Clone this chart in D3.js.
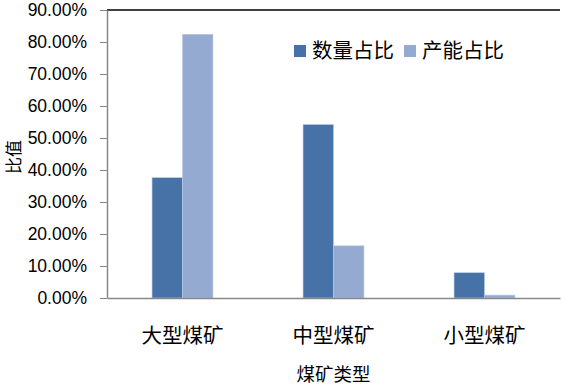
<!DOCTYPE html>
<html>
<head>
<meta charset="utf-8">
<script src="https://cdn.jsdelivr.net/npm/d3@7"></script>
<style>
  body { margin: 0; background: #fff; }
  svg { display: block; }
</style>
</head>
<body>
<div id="chart"></div>
<script>
// dados do gráfico
const categories = ["大型煤矿", "中型煤矿", "小型煤矿"];
const seriesNames = ["数量占比", "产能占比"];
const countShare = [0.376, 0.542, 0.079];
const capacityShare = [0.824, 0.163, 0.009];
const yTicks = [0, 0.1, 0.2, 0.3, 0.4, 0.5, 0.6, 0.7, 0.8, 0.9];
const colors = ["#4672A8", "#95AAD1"];

const width = 566, height = 389;
const margin = { top: 10, right: 6, bottom: 91, left: 107 };

const svg = d3.select("#chart").append("svg")
    .attr("width", width)
    .attr("height", height);

const x = d3.scaleBand()
    .domain(categories)
    .range([margin.left, width - margin.right]);

const xSub = d3.scaleBand()
    .domain(seriesNames)
    .range([0, x.bandwidth()])
    .paddingOuter(1.48)
    .paddingInner(0);

const y = d3.scaleLinear()
    .domain([0, 0.9])
    .range([height - margin.bottom, margin.top]);

const cjk = "'Noto Sans CJK SC', sans-serif";

// linha superior da área do gráfico
svg.append("line")
    .attr("x1", margin.left).attr("x2", width - margin.right)
    .attr("y1", y(0.9)).attr("y2", y(0.9))
    .attr("stroke", "#000").attr("stroke-width", 1.5);

// barras
const rows = categories.map((c, i) => ({ cat: c, values: [countShare[i], capacityShare[i]] }));

svg.append("g").selectAll("g")
    .data(rows)
    .join("g")
    .attr("transform", d => `translate(${x(d.cat)},0)`)
    .selectAll("rect")
    .data(d => d.values.map((v, j) => ({ key: seriesNames[j], value: v, j })))
    .join("rect")
    .attr("x", d => xSub(d.key))
    .attr("y", d => y(d.value))
    .attr("width", xSub.bandwidth())
    .attr("height", d => y(0) - y(d.value))
    .attr("fill", d => colors[d.j])
    .attr("stroke", "#b9c9e3")
    .attr("stroke-width", 0.6);

// eixo Y
const yAxis = svg.append("g")
    .attr("transform", `translate(${margin.left},0)`)
    .call(d3.axisLeft(y).tickValues(yTicks).tickFormat(d3.format(".2%")).tickSize(7).tickSizeOuter(0));
yAxis.select(".domain").attr("stroke", "#888").attr("stroke-width", 1.5);
yAxis.selectAll(".tick line").attr("stroke", "#888");
yAxis.selectAll(".tick text")
    .attr("x", -20)
    .attr("fill", "#000")
    .style("font-family", "'Liberation Sans', Arial, sans-serif")
    .style("font-size", "17.5px");

// eixo X
const xAxis = svg.append("g")
    .attr("transform", `translate(0,${y(0)})`)
    .call(d3.axisBottom(x).tickSize(0).tickSizeOuter(0));
xAxis.select(".domain").attr("stroke", "#888").attr("stroke-width", 1.5);
xAxis.selectAll(".tick text")
    .attr("y", 38)
    .attr("dy", "0.35em")
    .attr("fill", "#000")
    .style("font-family", cjk)
    .style("font-size", "20.5px");

// títulos dos eixos
svg.append("text")
    .attr("x", (margin.left + width - margin.right) / 2)
    .attr("y", 375)
    .attr("dy", "0.35em")
    .attr("text-anchor", "middle")
    .style("font-family", cjk)
    .style("font-size", "18.5px")
    .text("煤矿类型");

svg.append("text")
    .attr("transform", "translate(14,157) rotate(-90)")
    .attr("dy", "0.35em")
    .attr("text-anchor", "middle")
    .style("font-family", cjk)
    .style("font-size", "17px")
    .text("比值");

// legenda
const legendX = [294, 404];
const legend = svg.append("g").selectAll("g")
    .data(seriesNames)
    .join("g")
    .attr("transform", (d, i) => `translate(${legendX[i]},45)`);

legend.append("rect")
    .attr("width", 12).attr("height", 12)
    .attr("fill", (d, i) => colors[i]);

legend.append("text")
    .attr("x", 18)
    .attr("y", 6)
    .attr("dy", "0.35em")
    .style("font-family", cjk)
    .style("font-size", "20.5px")
    .text(d => d);
</script>
</body>
</html>
